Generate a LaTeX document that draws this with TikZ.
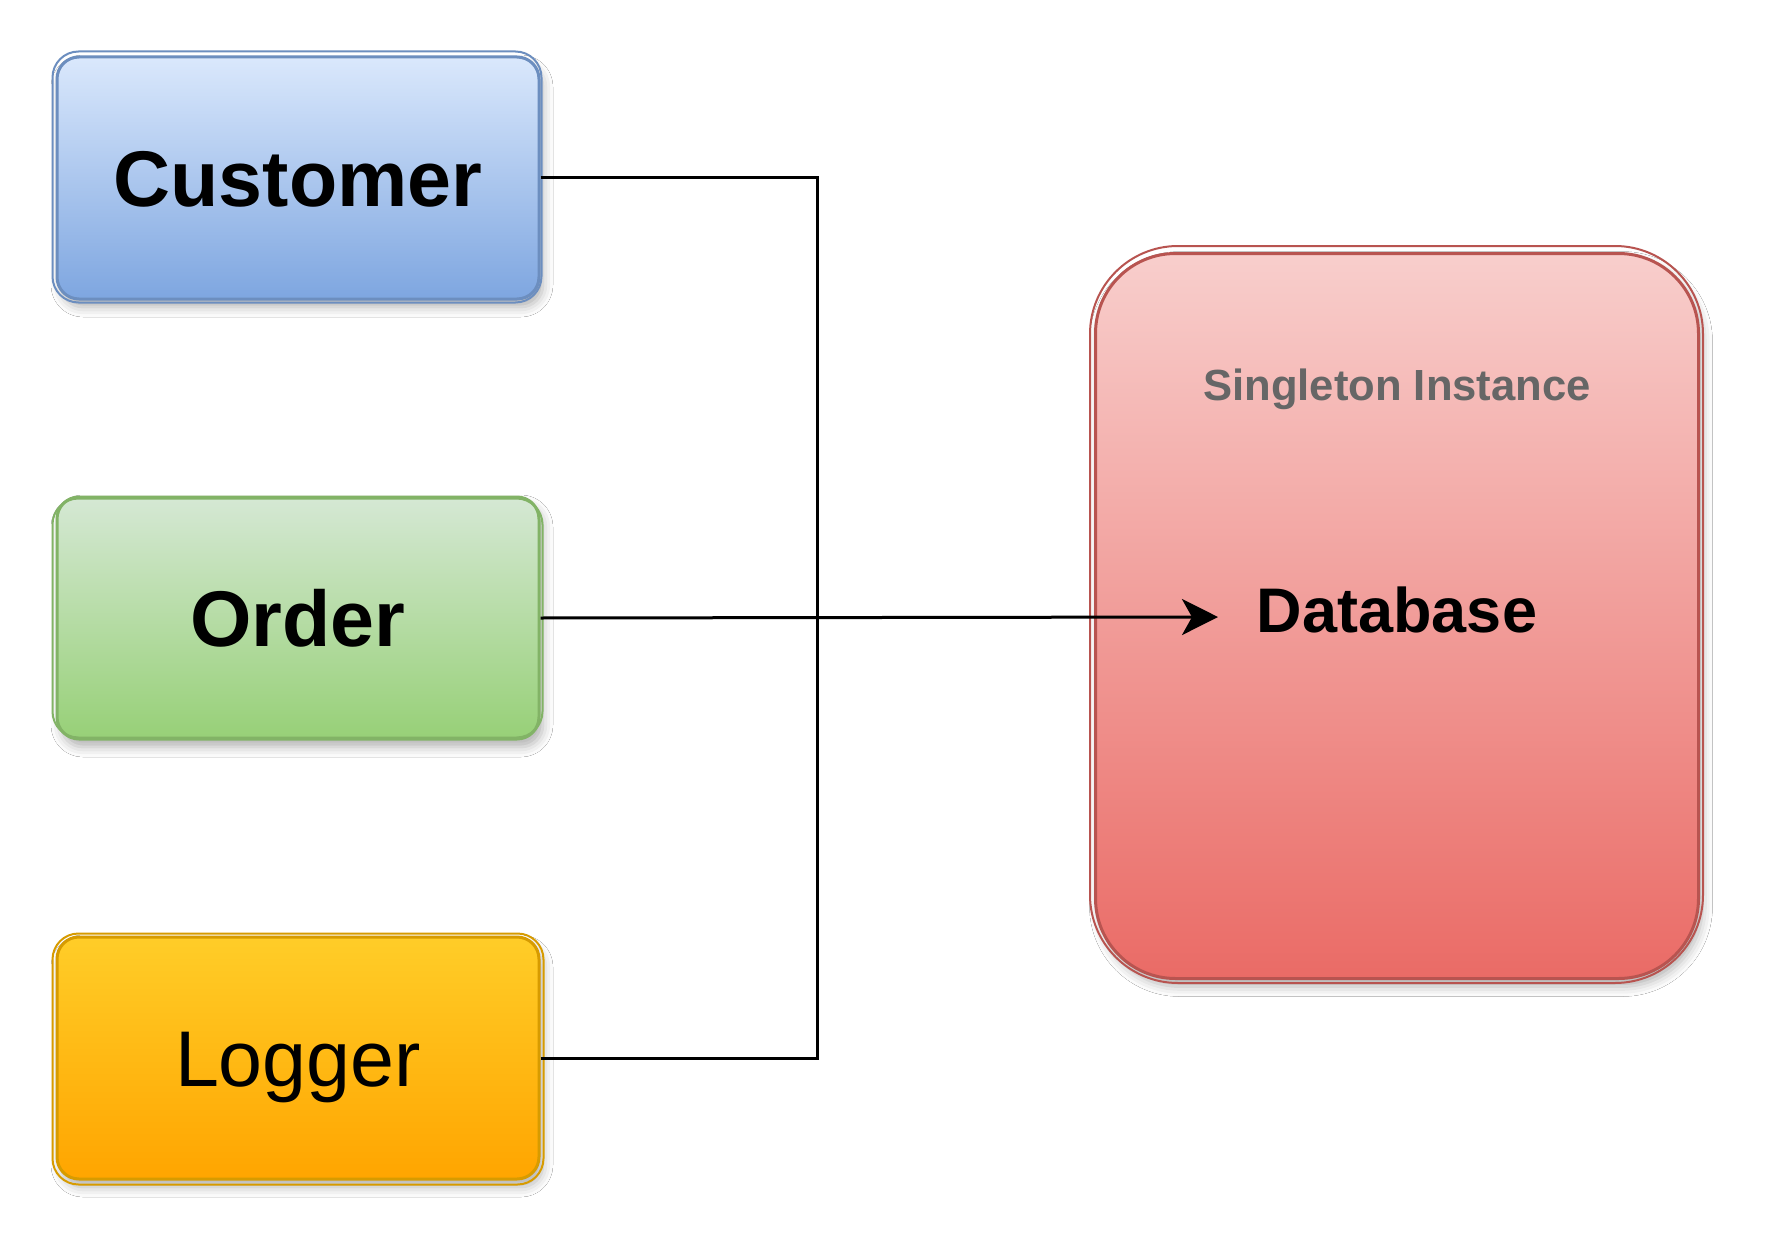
\documentclass[tikz,border=0pt]{standalone}
\usepackage{fontspec}
\setmainfont{Liberation Sans}
\usetikzlibrary{arrows.meta,shadows.blur,calc}
\definecolor{cusT}{HTML}{DAE8FC}
\definecolor{cusB}{HTML}{7EA6E0}
\definecolor{cusS}{HTML}{6C8EBF}
\definecolor{ordT}{HTML}{D5E8D4}
\definecolor{ordB}{HTML}{97D077}
\definecolor{ordS}{HTML}{82B366}
\definecolor{logT}{HTML}{FFCD28}
\definecolor{logB}{HTML}{FFA500}
\definecolor{logS}{HTML}{D79B00}
\definecolor{dbT}{HTML}{F8CECC}
\definecolor{dbB}{HTML}{EA6B66}
\definecolor{dbS}{HTML}{B85450}
\definecolor{subgray}{HTML}{666666}
\begin{document}
\begin{tikzpicture}[x=0.5pt,y=-0.5pt,
  shad/.style={blur shadow={shadow xshift=2pt, shadow yshift=-4pt, shadow blur radius=5pt, shadow opacity=30}},
  box/.style={shad, rounded corners=11pt, minimum width=241pt, minimum height=121pt,
    line width=1.5pt, inner sep=0pt, text height=28.3pt, text depth=0pt,
    font=\fontsize{39.5}{44}\selectfont},
  custbox/.style={box, draw=cusS, top color=cusT, bottom color=cusB},
  ordbox/.style={box, draw=ordS, top color=ordT, bottom color=ordB},
  logbox/.style={box, draw=logS, top color=logT, bottom color=logB},
  dbbox/.style={shad, rounded corners=40pt, minimum width=301.5pt, minimum height=362.5pt,
    line width=1.5pt, inner sep=0pt, draw=dbS, top color=dbT, bottom color=dbB},
  sketch/.style={line width=1pt, rounded corners=13pt},
  conn/.style={line width=1.5pt, draw=black},
  tip/.style={-{Stealth[length=18pt,width=18pt,inset=5pt]}}
]
\path[fill=white] (0,0) rectangle (1768,1252);
\useasboundingbox (0,0) rectangle (1768,1252);

% boxes
\node[custbox] (cust) at (298,178) {\bfseries Customer};
\node[ordbox]  (ord)  at (298,618) {\bfseries Order};
\node[logbox]  (logg) at (298,1058) {Logger};
\node[dbbox]   (db)   at (1397,616) {};

% hand-drawn extra strokes
\draw[sketch, cusS] ($(cust.south west)+(-3,2)$) rectangle ($(cust.north east)+(1,-4)$);
\draw[sketch, ordS] ($(ord.south west)+(-3,-3)$) rectangle ($(ord.north east)+(2,3)$);
\draw[sketch, logS] ($(logg.south west)+(-3,4)$) rectangle ($(logg.north east)+(3,-2)$);
\draw[dbS, line width=1pt, rounded corners=44pt] ($(db.south west)+(-4,3)$) rectangle ($(db.north east)+(3,-6)$);

% texts in database
\node[text=subgray, font=\bfseries\fontsize{21.8}{26}\selectfont] (single) at (1397,389) {Singleton Instance};
\node[font=\bfseries\fontsize{31.5}{36}\selectfont] (dbtext) at (1397,610) {Database};
\coordinate (dbin) at (1218,617);
\coordinate (jn) at (817,617);

% connectors
\draw[conn] (cust.east) -| (jn);
\draw[conn] (logg.east) -| (jn);
\draw[conn, tip] (ord.east) -- (dbin);
\end{tikzpicture}
\end{document}
